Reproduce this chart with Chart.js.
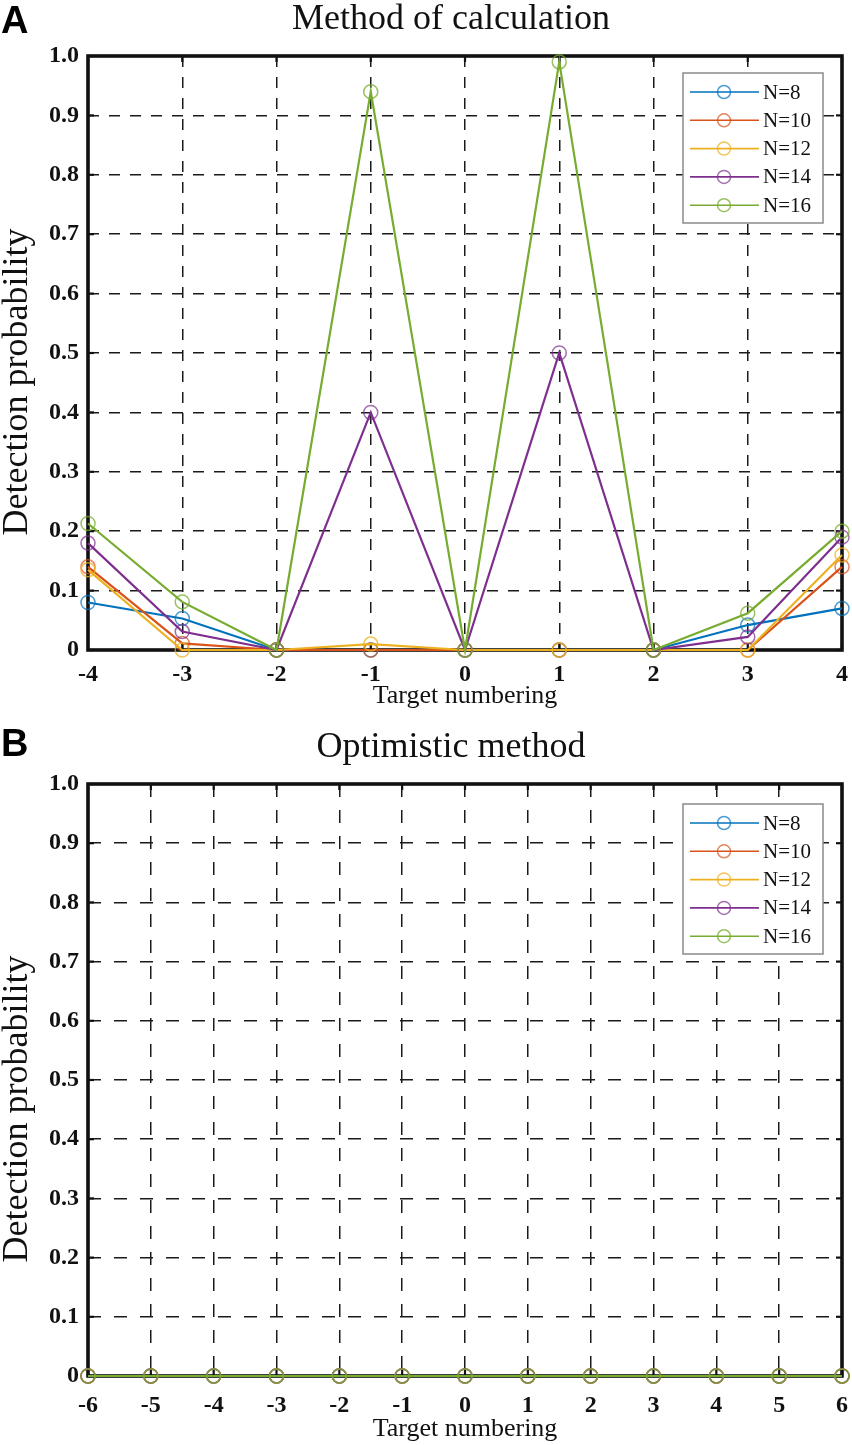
<!DOCTYPE html>
<html><head><meta charset="utf-8">
<script src="https://cdn.jsdelivr.net/npm/chart.js@4.4.1/dist/chart.umd.min.js"></script>
<style>
body{margin:0;width:852px;height:1445px;background:#fff;position:relative;overflow:hidden}
.cv{position:absolute;left:0;width:852px}
.title{position:absolute;font-family:'Liberation Serif',serif;font-size:36px;line-height:1;color:#111;white-space:nowrap;transform:translateX(-50%)}
.panel{position:absolute;font-family:'Liberation Sans',sans-serif;font-weight:bold;font-size:38px;line-height:1;color:#000}
.ytitle{position:absolute;font-family:'Liberation Serif',serif;font-size:36px;line-height:1;color:#111;white-space:nowrap;transform:translate(-50%,-50%) rotate(-90deg)}
</style></head><body>
<div class="cv" style="top:0;height:720px"><canvas id="cA" width="852" height="720"></canvas></div>
<div class="cv" style="top:730px;height:715px"><canvas id="cB" width="852" height="715"></canvas></div>
<div class="panel" style="left:1px;top:1px">A</div>
<div class="title" style="left:451px;top:-1px">Method of calculation</div>
<div class="ytitle" style="left:15px;top:382px">Detection probability</div>
<div class="panel" style="left:1px;top:724px">B</div>
<div class="title" style="left:451px;top:727px">Optimistic method</div>
<div class="ytitle" style="left:15px;top:1109px">Detection probability</div>
<script>
// ---- data ----
const seriesNames = ['N=8','N=10','N=12','N=14','N=16'];
const seriesColors = ['#0072BD','#D95319','#EDB120','#7E2F8E','#77AC30'];
const markerColors = ['rgba(0,114,189,0.7)','rgba(217,83,25,0.7)','rgba(237,177,32,0.75)','rgba(126,47,142,0.7)','rgba(119,172,48,0.75)'];
const yTickValues = [0,0.1,0.2,0.3,0.4,0.5,0.6,0.7,0.8,0.9,1.0];

const targetsA = ['-4','-3','-2','-1','0','1','2','3','4'];
const n8A  = [0.08, 0.053, 0, 0,    0, 0,    0, 0.042, 0.07];
const n10A = [0.14, 0.011, 0, 0,    0, 0,    0, 0,     0.14];
const n12A = [0.135,0,     0, 0.01, 0, 0,    0, 0,     0.16];
const n14A = [0.18, 0.031, 0, 0.40, 0, 0.50, 0, 0.022, 0.19];
const n16A = [0.213,0.081, 0, 0.94, 0, 0.99, 0, 0.062, 0.20];

const targetsB = ['-6','-5','-4','-3','-2','-1','0','1','2','3','4','5','6'];
const n8B  = [0,0,0,0,0,0,0,0,0,0,0,0,0];
const n10B = [0,0,0,0,0,0,0,0,0,0,0,0,0];
const n12B = [0,0,0,0,0,0,0,0,0,0,0,0,0];
const n14B = [0,0,0,0,0,0,0,0,0,0,0,0,0];
const n16B = [0,0,0,0,0,0,0,0,0,0,0,0,0];

const framePlugin = {
  id:'frame',
  beforeDatasetsDraw(chart){
    const {ctx, chartArea:{left,right,top,bottom}, scales:{x,y}} = chart;
    ctx.save();
    ctx.strokeStyle='#111'; ctx.lineWidth=2.2; ctx.setLineDash([]);
    const seg=(a,b,c,d)=>{ctx.beginPath();ctx.moveTo(a,b);ctx.lineTo(c,d);ctx.stroke();};
    x.ticks.forEach((t,i)=>{const px=x.getPixelForTick(i); seg(px,top,px,top+6); seg(px,bottom,px,bottom-6);});
    y.ticks.forEach((t,i)=>{const py=y.getPixelForTick(i); seg(left,py,left+6,py); seg(right,py,right-6,py);});
    ctx.lineWidth=3.6; ctx.strokeStyle='#111';
    ctx.strokeRect(left,top,right-left,bottom-top);
    ctx.restore();
  },
  afterDraw(chart){
    const o = chart.options.plugins.frame || {};
    const {ctx, chartArea:{top}} = chart;
    const bx=683, by=top+o.boxOff, bw=140, bh=150;
    ctx.save();
    ctx.fillStyle='#fff'; ctx.fillRect(bx,by,bw,bh);
    ctx.strokeStyle='#8a8a8a'; ctx.lineWidth=1.5; ctx.strokeRect(bx,by,bw,bh);
    chart.data.datasets.forEach((ds,i)=>{
      const ey = by+19+i*28.3;
      ctx.strokeStyle=ds.borderColor; ctx.lineWidth=1.6;
      ctx.beginPath(); ctx.moveTo(690,ey); ctx.lineTo(759,ey); ctx.stroke();
      ctx.strokeStyle=ds.pointBorderColor; ctx.lineWidth=1.5;
      ctx.beginPath(); ctx.arc(724,ey,6.5,0,Math.PI*2); ctx.stroke();
      ctx.fillStyle='#111'; ctx.font='21px "Liberation Serif"'; ctx.textBaseline='middle'; ctx.textAlign='left';
      ctx.fillText(ds.label,763,ey+1);
    });
    ctx.restore();
  }
};

function makeChart(id, labels, seriesData, cfg){
  const datasets = seriesData.map((d,i)=>({
    label: seriesNames[i], data: d,
    borderColor: seriesColors[i], borderWidth: 2.2,
    pointBorderColor: markerColors[i], pointBackgroundColor:'rgba(0,0,0,0)',
    pointRadius: 7, pointBorderWidth: 1.5, pointHoverRadius:7,
    tension:0, clip:false, order: 5-i, fill:false
  }));
  return new Chart(document.getElementById(id), {
    type:'line',
    data:{labels, datasets},
    plugins:[framePlugin],
    options:{
      responsive:false, animation:false, devicePixelRatio:1,
      layout:{padding:{top:cfg.padTop,right:10,left:0,bottom:0}},
      plugins:{legend:{display:false},tooltip:{enabled:false},title:{display:false},frame:{boxOff:cfg.boxOff}},
      scales:{
        x:{type:'category', offset:false,
           grid:{color:'#1a1a1a', lineWidth:1.5, drawTicks:false},
           border:{display:false, dash:cfg.dash},
           ticks:{color:'#111', padding:cfg.xTickPad, maxRotation:0, autoSkip:false,
                  font:{family:'Liberation Serif', size:24, weight:'bold'}},
           title:{display:true, text:'Target numbering', color:'#111',
                  font:{family:'Liberation Serif', size:26, weight:'normal'},
                  padding:{top:0,bottom:cfg.xTitlePad}},
           afterFit(s){ s.height = cfg.xHeight; s.paddingLeft = 0; s.paddingRight = 0; }
        },
        y:{min:0,max:1,
           afterBuildTicks(s){ s.ticks = yTickValues.map(v=>({value:v})); },
           grid:{color:'#1a1a1a', lineWidth:1.5, drawTicks:false},
           border:{display:false, dash:cfg.dash},
           ticks:{color:'#111', padding:9,
                  font:{family:'Liberation Serif', size:24, weight:'bold'},
                  callback:(v)=> v===0 ? '0' : Number(v).toFixed(1)},
           afterFit(s){ s.width = 88; s.paddingTop = 0; s.paddingBottom = 0; }
        }
      }
    }
  });
}

makeChart('cA', targetsA, [n8A,n10A,n12A,n14A,n16A],
  {padTop:56, xHeight:70, xTickPad:10, xTitlePad:8, boxOff:17, dash:[11,10]});
makeChart('cB', targetsB, [n8B,n10B,n12B,n14B,n16B],
  {padTop:54, xHeight:69, xTickPad:15, xTitlePad:0, boxOff:20, dash:[13,13]});
</script>
</body></html>
